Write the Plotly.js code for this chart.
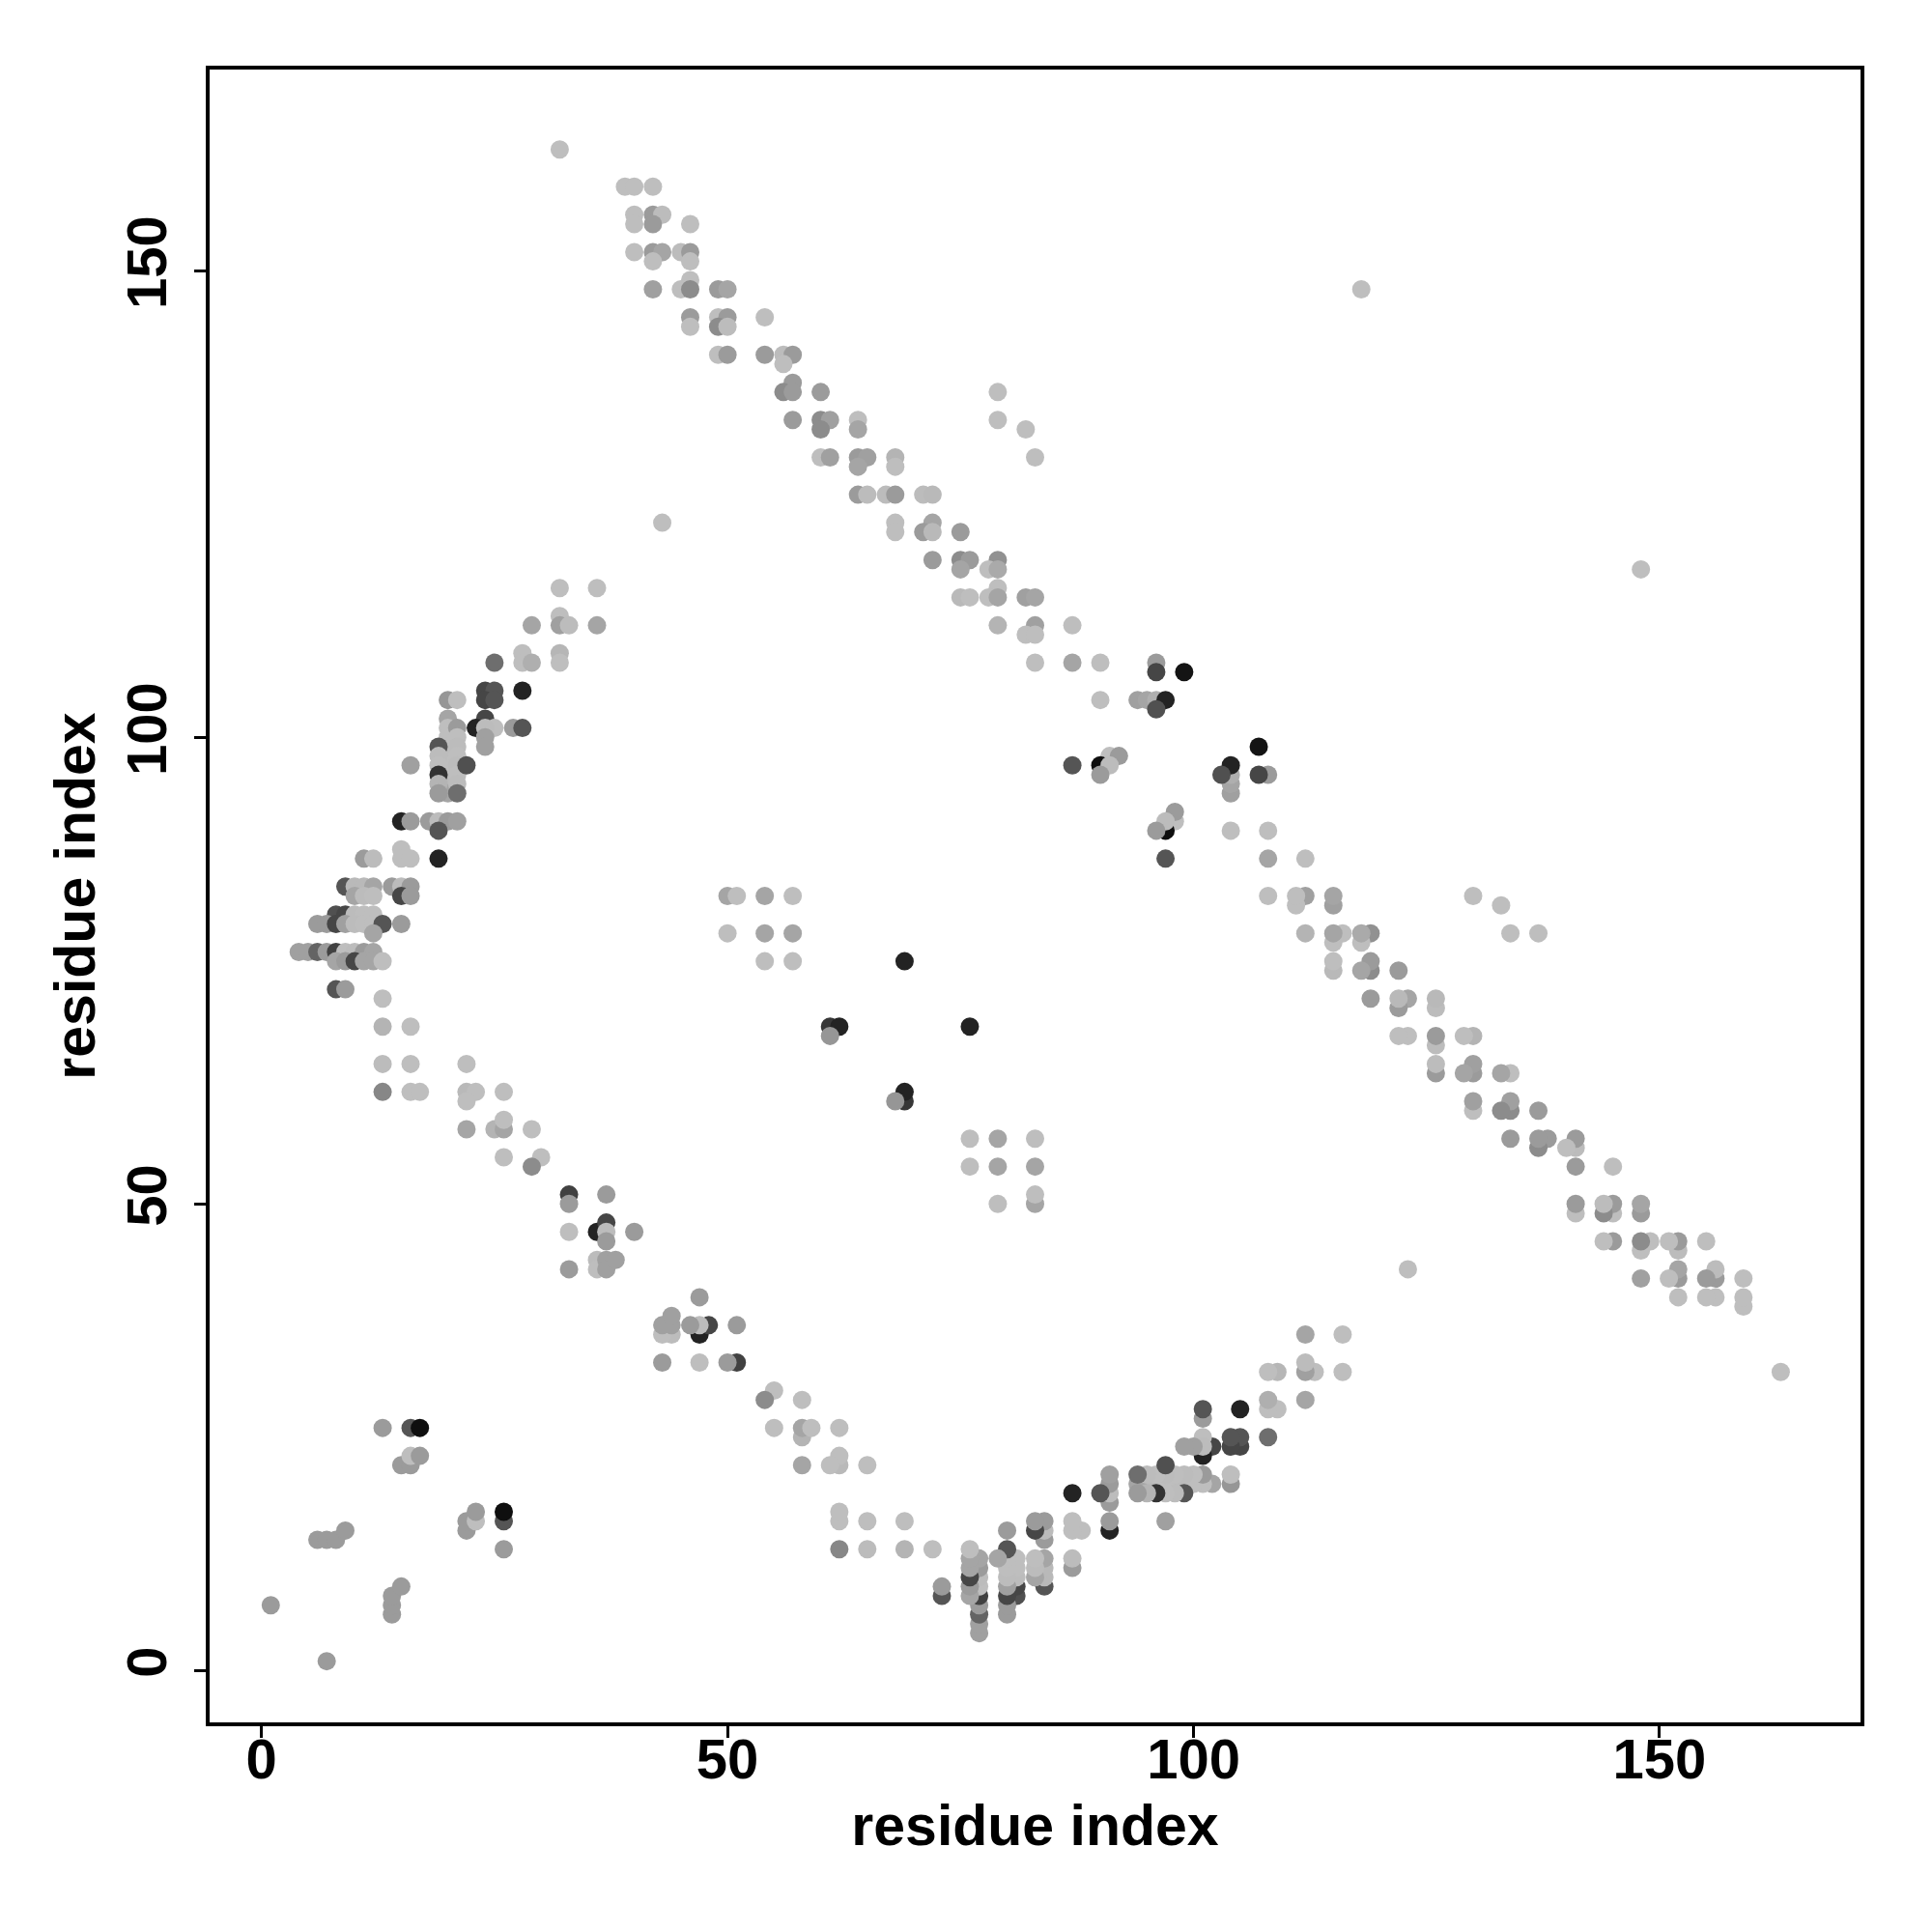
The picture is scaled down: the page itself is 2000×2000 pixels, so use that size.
<!DOCTYPE html>
<html>
<head>
<meta charset="utf-8">
<script src="https://cdn.plot.ly/plotly-3.0.1.min.js"></script>
<style>
html,body{margin:0;padding:0;background:#ffffff;}
#chart{width:2000px;height:2000px;}
</style>
</head>
<body>
<div id="chart"></div>
<script>
// Contact pairs (residue i < residue j); the map is symmetric, each pair is drawn at (i,j) and (j,i).
const contactI = [
  32,39,40,42,40,42,43,40,42,46,40,42,43,45,46,42,46,46,42,45,46,49,50,46,49,50,54,46,49,50,
  49,50,54,56,57,56,57,56,57,60,57,60,61,64,60,64,60,61,64,65,68,64,68,64,65,67,68,71,72,68,
  72,68,71,72,75,72,75,76,79,75,78,79,79,75,76,78,79,82,83,79,83,87,82,83,83,87,90,96,96,99,
  90,94,95,96,97,96,91,92,87,90,91,90,43,79,79,82,83,118,
  50,51,54,57,50,54,57,54,57,69,61,62,61,
  32,36,32,29,32,33,36,28,32,25,28,29,32,24,25,24,25,28,20,21,24,23,25,27,28,24,24,24,
  20,20,20,20,20,20,20,20,20,
  21,21,21,21,21,21,21,21,
  19,19,19,19,19,19,
  22,16,15,16,18,19,20,21,19,15,11,12,15,16,19,
  9,10,11,12,14,15,16,10,11,12,15,16,
  8,9,10,11,12,6,7,8,9,10,11,12,13,15,12,
  4,5,6,7,8,9,10,11,12,8,9,10,11,12,13,8,9,13,13,16,13,16,22,
  13,16,17,22,23,26,22,22,25,26,29,26,26,30,29,
  33,33,37,33,36,37,37,37,40,33,36,36,37,37,38,
  13,16,17,15,16,16,17,6,7,8,9,1
];
const contactJ = [
  163,159,159,159,156,156,156,155,155,155,152,152,152,152,152,151,151,149,148,148,148,148,148,145,145,145,145,144,144,144,
  141,141,141,141,141,140,138,137,137,137,134,134,134,134,133,133,130,130,130,130,130,129,129,126,126,126,126,126,126,123,
  123,122,122,122,122,119,119,119,119,118,118,118,116,115,115,115,115,115,115,112,112,112,111,111,108,108,108,108,107,107,
  104,104,104,104,104,103,98,98,97,97,97,96,123,137,134,133,130,148,
  83,83,83,83,79,79,79,76,76,76,69,69,68,
  116,116,113,112,112,112,112,109,109,108,108,108,108,105,105,104,104,105,104,104,102,101,101,101,101,101,100,99,
  102,101,100,99,98,97,96,95,94,
  101,100,99,98,97,96,95,94,
  99,98,97,96,95,94,
  97,97,91,91,91,91,91,91,90,88,87,87,87,87,87,
  84,84,84,84,84,84,84,83,83,83,83,83,
  81,81,81,81,81,80,80,80,80,80,80,80,80,80,79,
  77,77,77,77,77,77,77,77,77,76,76,76,76,76,76,73,73,72,69,69,65,65,65,
  62,62,62,62,62,62,61,58,58,58,58,59,55,55,54,
  51,50,51,47,47,48,47,46,47,43,44,43,44,43,44,
  26,26,26,22,22,23,23,14,14,14,15,7
];
// Grey level of each contact (0 = black, 190 = light grey)
const contactGray = [
  190,190,190,190,190,155,188,190,155,190,190,155,165,188,155,190,190,190,160,190,140,155,165,155,190,155,190,190,140,188,
  190,155,155,188,155,190,155,140,155,155,155,140,160,190,140,165,190,160,155,160,180,165,190,155,188,188,155,188,185,190,
  165,190,155,185,155,155,140,155,145,165,190,170,190,185,190,190,165,160,165,180,160,190,190,190,190,165,190,155,70,20,
  190,160,165,175,35,80,190,155,85,15,188,155,190,190,190,190,190,190,
  165,190,165,190,190,165,165,190,190,35,55,35,150,
  190,190,190,165,160,188,165,190,182,110,190,175,190,70,85,70,85,35,150,190,70,35,190,155,85,188,160,160,
  165,190,190,190,188,190,190,185,165,
  155,190,188,190,188,190,188,110,
  85,188,190,50,180,155,
  80,160,35,155,155,188,155,160,85,190,155,188,190,190,35,
  85,185,185,165,155,188,155,165,188,190,70,155,
  80,70,188,190,190,155,155,70,160,188,190,190,85,155,165,
  160,160,100,155,65,190,188,155,165,165,155,70,165,165,190,85,155,190,180,190,188,190,190,
  135,190,190,185,190,190,190,165,180,165,190,190,190,190,140,
  65,155,155,190,35,70,188,155,155,155,188,190,160,160,160,
  155,85,15,155,155,190,155,155,155,155,155,155
];

const tickValues = [0, 50, 100, 150];
const tickLabels = ['0', '50', '100', '150'];
const axisTitle = 'residue index';

const xs = contactI.concat(contactJ);
const ys = contactJ.concat(contactI);
const greys = contactGray.concat(contactGray).map(g => 'rgb(' + g + ',' + g + ',' + g + ')');

const trace = {
  type: 'scatter',
  mode: 'markers',
  x: xs,
  y: ys,
  marker: {size: 19, color: greys, line: {width: 0}},
  hoverinfo: 'x+y'
};

const fontFamily = 'Liberation Sans, Arial, Helvetica, sans-serif';
function axis(isY) {
  return {
    range: [-5.56, 171.56],
    tickmode: 'array',
    tickvals: tickValues,
    ticktext: tickLabels,
    ticks: 'outside',
    ticklen: 12,
    tickwidth: 3,
    tickcolor: '#000',
    tickangle: isY ? -90 : 0,
    ticklabelstandoff: isY ? 6 : -28,
    tickfont: {family: fontFamily, size: 58, color: '#000', weight: 'bold'},
    showline: true,
    mirror: true,
    linewidth: 4,
    linecolor: '#000',
    showgrid: false,
    zeroline: false,
    automargin: false,
    title: {text: axisTitle, font: {family: fontFamily, size: 59, color: '#000', weight: 'bold'}, standoff: isY ? 2 : 18}
  };
}

const layout = {
  width: 2000,
  height: 2000,
  margin: {l: 217, r: 74, t: 72, b: 217, pad: 0},
  paper_bgcolor: '#ffffff',
  plot_bgcolor: '#ffffff',
  showlegend: false,
  font: {family: fontFamily, color: '#000'},
  xaxis: axis(false),
  yaxis: axis(true)
};

Plotly.newPlot('chart', [trace], layout, {displayModeBar: false, staticPlot: true});
</script>
</body>
</html>
